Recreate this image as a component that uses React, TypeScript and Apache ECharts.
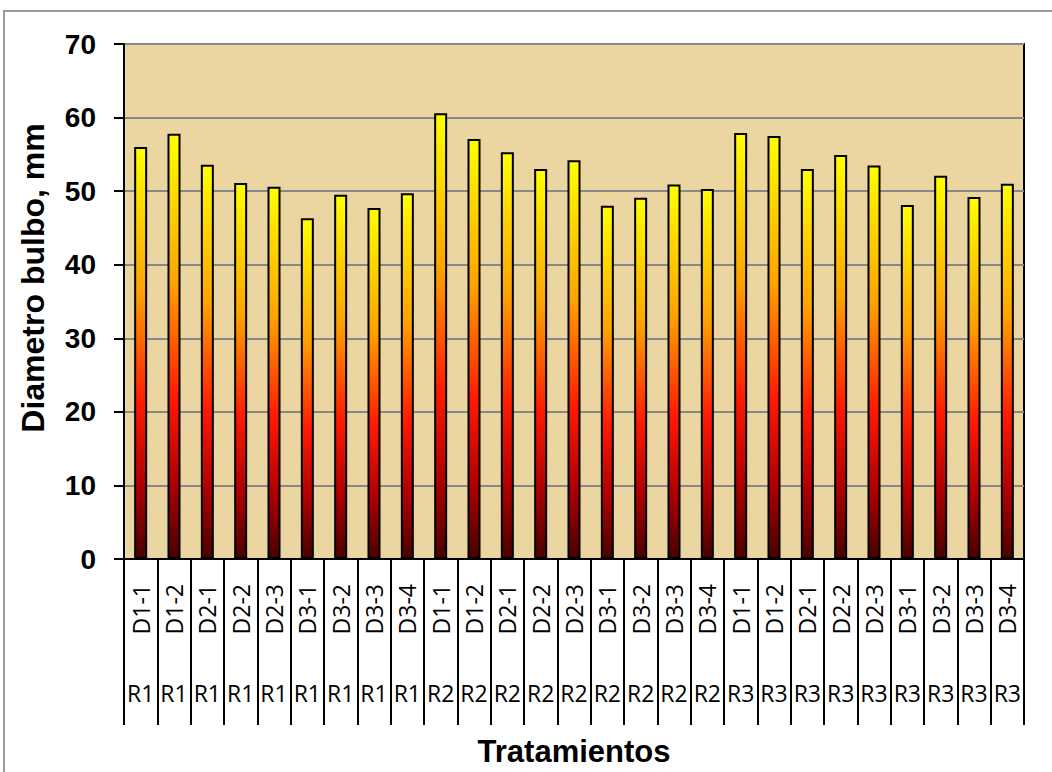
import React, { useEffect, useRef } from "react";
import * as echarts from "echarts";

const dLabels = [
  "D1-1", "D1-2", "D2-1", "D2-2", "D2-3", "D3-1", "D3-2", "D3-3", "D3-4",
  "D1-1", "D1-2", "D2-1", "D2-2", "D2-3", "D3-1", "D3-2", "D3-3", "D3-4",
  "D1-1", "D1-2", "D2-1", "D2-2", "D2-3", "D3-1", "D3-2", "D3-3", "D3-4",
];
const rLabels = [
  "R1", "R1", "R1", "R1", "R1", "R1", "R1", "R1", "R1",
  "R2", "R2", "R2", "R2", "R2", "R2", "R2", "R2", "R2",
  "R3", "R3", "R3", "R3", "R3", "R3", "R3", "R3", "R3",
];
const diametro = [
  56.0, 57.8, 53.6, 51.1, 50.6, 46.3, 49.5, 47.7, 49.7,
  60.6, 57.1, 55.3, 53.0, 54.2, 48.0, 49.1, 50.9, 50.3,
  57.9, 57.5, 53.0, 54.9, 53.5, 48.1, 52.1, 49.2, 51.0,
];
const yTicks = { min: 0, max: 70, interval: 10 };
const yName = "Diametro bulbo, mm";
const xName = "Tratamientos";

export default function App() {
  const ref = useRef<HTMLDivElement>(null);
  useEffect(() => {
    document.body.style.margin = "0";
    const chart = echarts.init(ref.current!, null, { renderer: "svg" });
    const bold = "'Liberation Sans', Arial, sans-serif";
    const cal = "'Open Sans', 'Noto Sans', sans-serif";
    chart.setOption({
      animation: false,
      backgroundColor: "#ffffff",
      grid: {
        left: 124, top: 44, width: 900, height: 520,
        show: true, backgroundColor: "#ebd5a1", borderColor: "#000", borderWidth: 2,
      },
      xAxis: [
        {
          type: "category",
          data: dLabels,
          position: "bottom",
          axisLine: { show: true, lineStyle: { color: "#000", width: 2 } },
          axisTick: { show: true, interval: 0, length: 166, lineStyle: { color: "#000", width: 2 } },
          axisLabel: {
            show: false,
          },
          splitLine: { show: false },
        },
        {
          type: "category",
          data: rLabels,
          position: "bottom",
          axisLine: { show: false },
          axisTick: { show: false },
          axisLabel: { show: false },
          name: xName,
          nameLocation: "middle",
          nameGap: 177,
          nameTextStyle: { fontFamily: bold, fontWeight: "bold", fontSize: 31, color: "#000" },
        },
        {
          type: "category",
          data: dLabels,
          position: "bottom",
          axisLine: { show: false },
          axisTick: { show: false },
          axisLabel: {
            interval: 0, rotate: 90, margin: 25, color: "#000",
            fontFamily: cal, fontSize: 23, hideOverlap: false,
          },
        },
        {
          type: "category",
          data: rLabels,
          position: "bottom",
          axisLine: { show: false },
          axisTick: { show: false },
          axisLabel: {
            interval: 0, margin: 122, color: "#000",
            fontFamily: cal, fontSize: 23, hideOverlap: false,
          },
        },
      ],
      yAxis: {
        type: "value",
        min: yTicks.min, max: yTicks.max, interval: yTicks.interval,
        axisLine: { show: true, lineStyle: { color: "#000", width: 2 } },
        axisTick: { show: true, length: 10, lineStyle: { color: "#000", width: 2 } },
        axisLabel: {
          margin: 28, color: "#000", fontFamily: bold, fontWeight: "bold", fontSize: 28,
        },
        splitLine: { show: true, lineStyle: { color: "#888", width: 2 } },
      },
      graphic: [
        {
          type: "rect", shape: { x: 4, y: 11, width: 1200, height: 900 },
          style: { fill: "none", stroke: "#9a9a9a", lineWidth: 2 }, z: -10,
        },
        {
          type: "text", x: 33, y: 278, rotation: Math.PI / 2,
          style: {
            text: yName, fontFamily: bold, fontWeight: "bold", fontSize: 32, fill: "#000",
            textAlign: "center", textVerticalAlign: "middle",
          },
        },
      ],
      series: [
        {
          type: "bar",
          data: diametro,
          xAxisIndex: 0,
          barWidth: 13,
          itemStyle: {
            borderColor: "#000",
            borderWidth: 2,
            color: new echarts.graphic.LinearGradient(0, 0, 0, 1, [
              { offset: 0, color: "#ffff00" },
              { offset: 0.35, color: "#ffa200" },
              { offset: 0.62, color: "#ff1a00" },
              { offset: 0.82, color: "#b00000" },
              { offset: 1, color: "#4a0000" },
            ]),
          },
        },
      ],
    });
    return () => chart.dispose();
  }, []);
  return <div ref={ref} style={{ width: 1052, height: 772 }} />;
}
